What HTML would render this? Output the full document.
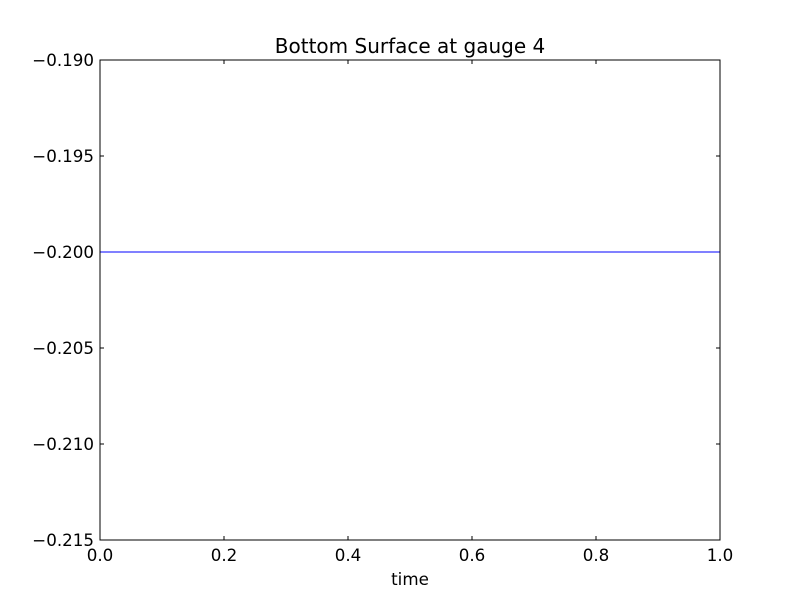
<!DOCTYPE html>
<html><head><meta charset="utf-8"><style>
body{margin:0;background:#fff;}
svg text{font-family:"DejaVu Sans","Liberation Sans",sans-serif;fill:#000;}
</style></head><body>
<svg id="chart" width="800" height="600">
<rect x="0" y="0" width="800" height="600" fill="#fff"/>
<text x="410" y="53" font-size="20" text-anchor="middle">Bottom Surface at gauge 4</text>
<text x="410" y="585" font-size="16.7" text-anchor="middle">time</text>
<g id="ticks"></g>
<g id="series"></g>
<rect x="100" y="60" width="620" height="480" fill="none" stroke="#000" stroke-width="1"/>
</svg>
<script>
const xTicks=[0,0.2,0.4,0.6,0.8,1.0];
const xTickLabels=["0.0","0.2","0.4","0.6","0.8","1.0"];
const yTicks=[-0.190,-0.195,-0.200,-0.205,-0.210,-0.215];
const yTickLabels=["\u22120.190","\u22120.195","\u22120.200","\u22120.205","\u22120.210","\u22120.215"];
const seriesT=[0,1];
const seriesY=[-0.2,-0.2];
const X0=100,X1=720,Y0=60,Y1=540;
const xMin=0,xMax=1,yMin=-0.215,yMax=-0.190;
function sx(v){return X0+(v-xMin)/(xMax-xMin)*(X1-X0);}
function sy(v){return Y1-(v-yMin)/(yMax-yMin)*(Y1-Y0);}
const NS="http://www.w3.org/2000/svg";
const tg=document.getElementById('ticks');
function mk(tag,attrs,parent){const e=document.createElementNS(NS,tag);for(const k in attrs)e.setAttribute(k,attrs[k]);parent.appendChild(e);return e;}
xTicks.forEach((v,i)=>{
 const x=sx(v);
 const t1=mk('line',{x1:x,x2:x,y1:Y1,y2:Y1-4,stroke:'#000'},tg);
 
 
 const t2=mk('line',{x1:x,x2:x,y1:Y0,y2:Y0+4,stroke:'#000'},tg);
 
 
 const l=mk('text',{x:x,y:Y1+21,'font-size':16.7,'text-anchor':'middle'},tg);
 l.textContent=xTickLabels[i];
 
 
});
yTicks.forEach((v,i)=>{
 const y=sy(v);
 const t1=mk('line',{x1:X0,x2:X0+4,y1:y,y2:y,stroke:'#000'},tg);
 
 
 const t2=mk('line',{x1:X1,x2:X1-4,y1:y,y2:y,stroke:'#000'},tg);
 
 
 const l=mk('text',{x:X0-6,y:y+6,'font-size':16.7,'text-anchor':'end'},tg);
 l.textContent=yTickLabels[i];
 
 
});
const sg=document.getElementById('series');
const pts=seriesT.map((t,i)=>sx(t)+','+sy(seriesY[i])).join(' ');
const pl=mk('polyline',{points:pts,fill:'none',stroke:'#0000ff','stroke-width':1},sg);


</script>
</body></html>
